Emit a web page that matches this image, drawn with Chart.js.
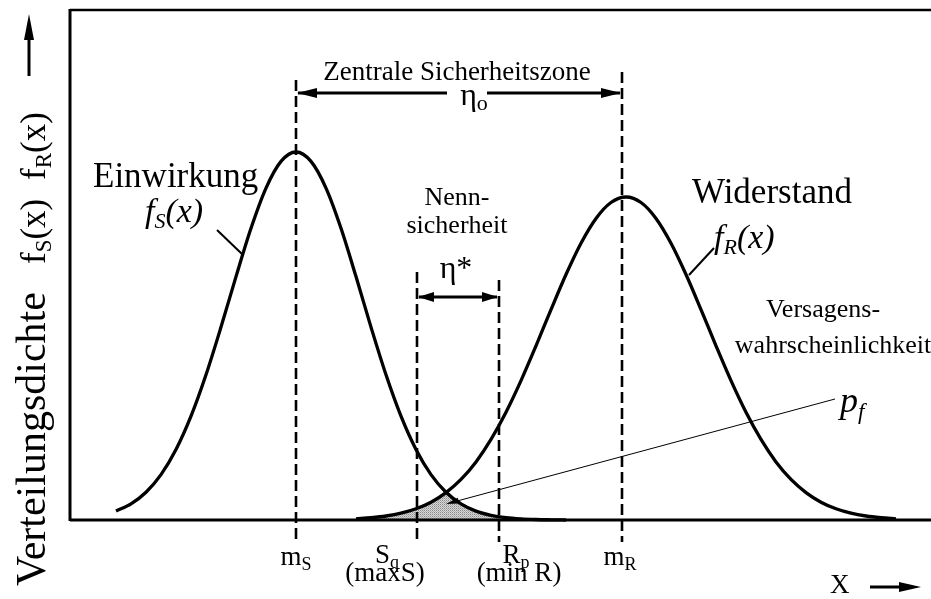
<!DOCTYPE html>
<html><head><meta charset="utf-8">
<script src="https://cdn.jsdelivr.net/npm/chart.js@4.4.0/dist/chart.umd.min.js"></script>
<style>html,body{margin:0;padding:0;background:#fff}#wrap{width:931px;height:599px}</style>
</head><body><div id="wrap"><canvas id="c" width="931" height="599"></canvas></div>
<script>
// x positions (horizontal units of the figure) and densities (height above baseline)
const xS = [116,131,146,161,176,191,206,221,236,251,266,281,296,311,326,341,356,371,386,401,416,431,446,461,476,491,506,521,536,551,566];
const fS = [8.9,16.2,27.8,45.4,70.5,103.8,145.2,192.9,243.4,291.7,331.9,358.6,368,358.6,331.9,291.7,243.4,192.9,145.2,103.8,70.5,45.4,27.8,16.2,8.9,4.7,2.3,1.1,0.5,0.2,0];
const xR = [356,371,386,401,416,431,446,461,476,491,506,521,536,551,566,581,596,611,626,641,656,671,686,701,716,731,746,761,776,791,806,821,836,851,866,881,896];
const fR = [1.2,2.3,4.0,6.8,11.2,17.8,27.4,40.6,58.1,80.6,107.8,139.4,174.2,210.4,245.5,276.8,301.6,317.5,323,317.5,301.6,276.8,245.5,210.4,174.2,139.4,107.8,80.6,58.1,40.6,27.4,17.8,11.2,6.8,4.0,2.3,1.2];
// marker positions on the x axis
const markerNames = ['mS','Sq','Rp','mR'];
const markerX = [296, 417, 499, 622];
const markerTop = [440, 248, 240, 448];   // upper end of dashed lines (height units)

// overlap region (failure probability): min of both densities
const overlap = [];
xR.forEach((x,i)=>{ const j = xS.indexOf(x); if (j>=0) overlap.push({x, y: Math.min(fS[j], fR[i])}); });

const FONT = '"Liberation Serif","Times New Roman",serif';
const canvas = document.getElementById('c');
const ctx0 = canvas.getContext('2d');

// stipple pattern
const pc = document.createElement('canvas'); pc.width = 2; pc.height = 2;
const pctx = pc.getContext('2d');
pctx.fillStyle = '#d6d6d6'; pctx.fillRect(0,0,2,2);
pctx.fillStyle = '#8a8a8a'; pctx.fillRect(0,0,1,1);
pctx.fillStyle = '#b0b0b0'; pctx.fillRect(1,1,1,1);
const pattern = ctx0.createPattern(pc, 'repeat');

const annot = {
  id: 'annot',
  afterDraw(chart) {
    const c = chart.ctx, xs = chart.scales.x, ys = chart.scales.y;
    const X = v => xs.getPixelForValue(v), Y = v => ys.getPixelForValue(v);
    const ca = chart.chartArea;
    c.save();
    c.fillStyle = '#000'; c.strokeStyle = '#000';

    function line(x1,y1,x2,y2,w,dash){ c.beginPath(); c.setLineDash(dash||[]); c.lineWidth=w; c.moveTo(x1,y1); c.lineTo(x2,y2); c.stroke(); c.setLineDash([]); }
    function head(tx,ty,ang,len,hw){
      const cs=Math.cos(ang), sn=Math.sin(ang);
      c.beginPath(); c.moveTo(tx,ty);
      c.lineTo(tx-len*cs+hw*sn, ty-len*sn-hw*cs);
      c.lineTo(tx-len*cs-hw*sn, ty-len*sn+hw*cs);
      c.closePath(); c.fill();
    }
    function font(size, italic){ return (italic?'italic ':'') + size + 'px ' + FONT; }
    function rich(parts, x, y, align){
      let w = 0;
      parts.forEach(p=>{ c.font = font(p.s, p.i); p.w = c.measureText(p.t).width; w += p.w; });
      let cx = align==='center' ? x - w/2 : (align==='right' ? x - w : x);
      c.textAlign = 'left'; c.textBaseline = 'alphabetic';
      parts.forEach(p=>{ c.font = font(p.s, p.i); c.fillText(p.t, cx, y + (p.dy||0)); cx += p.w; });
    }

    // frame
    line(ca.left, ca.top, ca.right, ca.top, 2.5);
    line(ca.left, ca.top-1, ca.left, ca.bottom+1, 3);
    line(ca.left, ca.bottom, ca.right, ca.bottom, 3);

    // dashed marker lines
    markerX.forEach((mx,i)=>{ line(X(mx), Y(markerTop[i]), X(mx), Y(-22), 2.6, [11,5]); });

    // central safety zone arrow
    const ay = Y(427);
    line(X(markerX[0])+2, ay, X(447), ay, 3);
    line(X(487), ay, X(markerX[3])-2, ay, 3);
    head(X(markerX[0])+1, ay, Math.PI, 20, 5);
    head(X(markerX[3])-1, ay, 0, 20, 5);
    rich([{t:'Zentrale Sicherheitszone', s:27}], X(457), Y(440), 'center');
    rich([{t:'η', s:32},{t:'o', s:22, dy:5}], X(474), Y(415), 'center');

    // nominal safety arrow
    const by = Y(223);
    line(X(markerX[1])+2, by, X(markerX[2])-2, by, 3);
    head(X(markerX[1])+1, by, Math.PI, 16, 5);
    head(X(markerX[2])-1, by, 0, 16, 5);
    rich([{t:'η*', s:32}], X(456), Y(242), 'center');
    rich([{t:'Nenn-', s:26}], X(457), Y(315), 'center');
    rich([{t:'sicherheit', s:26}], X(457), Y(287), 'center');

    // curve labels
    rich([{t:'Einwirkung', s:35}], X(93), Y(333), 'left');
    rich([{t:'f', s:34, i:true},{t:'S', s:22, i:true, dy:6},{t:'(x)', s:34, i:true}], X(145), Y(298), 'left');
    line(X(217), Y(290), X(242), Y(266), 2);
    rich([{t:'Widerstand', s:35}], X(692), Y(317), 'left');
    rich([{t:'f', s:34, i:true},{t:'R', s:22, i:true, dy:6},{t:'(x)', s:34, i:true}], X(714), Y(272), 'left');
    line(X(714), Y(272), X(689), Y(245), 2);

    // failure probability
    rich([{t:'Versagens-', s:26}], X(823), Y(203), 'center');
    rich([{t:'wahrscheinlichkeit', s:26}], X(833), Y(167), 'center');
    rich([{t:'p', s:36, i:true},{t:'f', s:23, i:true, dy:7}], X(840), Y(108), 'left');
    const ax1 = X(835), ay1 = Y(121), ax2 = X(446), ay2 = Y(16);
    line(ax1, ay1, ax2+6, ay2-1.6, 1);
    head(ax2, ay2, Math.atan2(ay2-ay1, ax2-ax1), 13, 3);

    // axis marker labels
    rich([{t:'m', s:27},{t:'S', s:18, dy:5}], X(markerX[0]), Y(-45), 'center');
    rich([{t:'S', s:27},{t:'q', s:18, dy:5}], X(387), Y(-43), 'center');
    rich([{t:'(maxS)', s:27}], X(385), Y(-61), 'center');
    rich([{t:'R', s:27},{t:'p', s:18, dy:5}], X(516), Y(-43), 'center');
    rich([{t:'(min R)', s:27}], X(519), Y(-61), 'center');
    rich([{t:'m', s:27},{t:'R', s:18, dy:5}], X(markerX[3]-2), Y(-45), 'center');

    // x axis title + arrow
    rich([{t:'X', s:27}], X(830), Y(-73), 'left');
    line(X(870), Y(-67), X(905), Y(-67), 3);
    head(X(921), Y(-67), 0, 22, 5);

    // y axis title (rotated)
    c.save();
    c.translate(45, 0); c.rotate(-Math.PI/2);
    rich([{t:'Verteilungsdichte', s:42}], -586, 0, 'left');
    rich([{t:'f', s:35},{t:'S', s:23, dy:6},{t:'(x)', s:35}], -264, 0, 'left');
    rich([{t:'f', s:35},{t:'R', s:23, dy:6},{t:'(x)', s:35}], -180, 0, 'left');
    c.restore();
    line(29, 76, 29, 36, 3);
    head(29, 14, -Math.PI/2, 26, 5);

    c.restore();
  }
};

new Chart(canvas, {
  type: 'line',
  data: { datasets: [
    { label:'fS', data: xS.map((x,i)=>({x, y:fS[i]})), borderColor:'#000', borderWidth:3.3, pointRadius:0, cubicInterpolationMode:'monotone', fill:false, clip:false },
    { label:'fR', data: xR.map((x,i)=>({x, y:fR[i]})), borderColor:'#000', borderWidth:3.3, pointRadius:0, cubicInterpolationMode:'monotone', fill:false, clip:false },
    { label:'pf', data: overlap, borderColor:'rgba(0,0,0,0)', borderWidth:0, backgroundColor: pattern, fill:'origin', pointRadius:0, cubicInterpolationMode:'monotone' }
  ]},
  options: {
    responsive:false, animation:false, devicePixelRatio:1, events:[],
    layout:{ padding:{ left:70, right:0, top:10, bottom:79 } },
    plugins:{ legend:{display:false}, tooltip:{enabled:false} },
    scales:{
      x:{ type:'linear', min:70, max:931, display:false },
      y:{ type:'linear', min:0, max:510, display:false }
    }
  },
  plugins:[annot]
});
</script></body></html>
